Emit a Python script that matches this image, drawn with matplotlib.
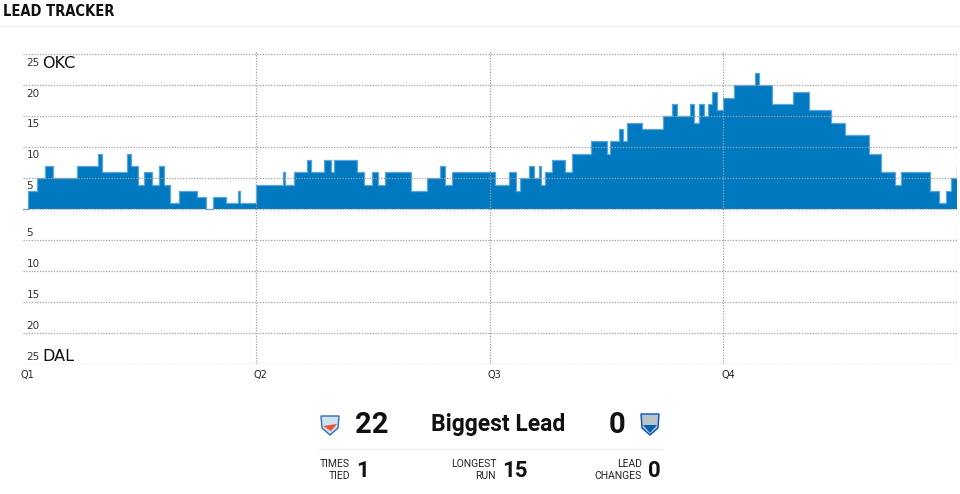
#!/usr/bin/env python3
"""Lead tracker: OKC vs DAL, lead by game minute, with a summary strip below."""

import matplotlib
matplotlib.use("Agg")
import matplotlib.pyplot as plt
from matplotlib.patches import Polygon

# game minute at which each lead value starts (OKC positive)
minutes = [0, 0.26, 0.75, 1.16, 1.54, 2.81, 3.85, 4.06, 5.34, 5.55, 5.91, 6.23,
           6.63, 7.0, 7.28, 7.59, 8.03, 8.94, 9.42, 9.79, 10.45, 11.08, 11.18,
           12.0, 13.39, 13.5, 13.93, 14.61, 14.8, 15.48, 15.86, 16.01, 17.18,
           17.55, 17.93, 18.24, 18.6, 19.97, 20.79, 21.46, 21.7, 22.05,
           24.27, 25.0, 25.35, 25.56, 26.03, 26.27, 26.53, 26.62, 26.82, 27.18,
           27.85, 28.21, 29.22, 30.01, 30.19, 30.62, 30.83, 31.05, 31.81, 32.89,
           33.38, 33.64, 34.26, 34.5, 34.75, 34.99, 35.23, 35.42, 35.67,
           36.0, 36.55, 37.61, 37.85, 38.52, 39.55, 40.42, 41.53, 42.27, 43.49,
           44.12, 44.79, 45.13, 46.59, 47.09, 47.46, 47.68, 47.99]
leads = [0, 3, 5, 7, 5, 7, 9, 6, 9, 7, 4, 6,
         4, 7, 4, 1, 3, 2, 0, 2, 1, 3, 1,
         4, 6, 4, 6, 8, 6, 8, 6, 8, 6,
         4, 6, 4, 6, 3, 5, 7, 4, 6,
         4, 6, 3, 5, 7, 5, 7, 4, 6, 8,
         6, 9, 11, 9, 11, 13, 11, 14, 13, 15,
         17, 15, 17, 14, 17, 15, 17, 19, 16,
         18, 20, 22, 20, 17, 19, 16, 14, 12, 9,
         6, 4, 6, 3, 1, 3, 5, 7]
GAME_END = 48

quarters = ["Q1", "Q2", "Q3", "Q4"]
quarter_starts = [0, 12, 24, 36]
grid_levels = [25, 20, 15, 10, 5, 0, -5, -10, -15, -20, -25]
home_team, away_team = "OKC", "DAL"

stat_labels = ["TIMES\nTIED", "LONGEST\nRUN", "LEAD\nCHANGES"]
stat_values = ["1", "15", "0"]
biggest_lead = {"OKC": "22", "DAL": "0"}

BLUE = "#0079C1"
EDGE = "#5aa6db"
GRID = "#a0a0a0"

W, H = 960, 494
fig = plt.figure(figsize=(W / 100, H / 100), dpi=100)


def fx(px):
    return px / W


def fy(py):
    return 1 - py / H


# header (condensed face if the system has it)
fig.text(fx(3), fy(11), "LEAD TRACKER", fontsize=10.5, fontweight="bold",
         fontstretch="condensed", family=["DejaVu Sans"], color="#111",
         va="center", ha="left")
fig.add_artist(plt.Line2D([0, 1], [fy(26.5), fy(26.5)], color="#eeeeee", lw=1))

# lead chart
ax = fig.add_axes([fx(22.7), fy(364.3), fx(957 - 22.7), fy(52) - fy(364.3)])
ax.set_xlim(0, GAME_END)
ax.set_ylim(-25, 25.4)
for s in ax.spines.values():
    s.set_visible(False)
ax.set_xticks([])
ax.set_yticks([])

xs = minutes + [GAME_END]
ys = leads + [leads[-1]]
ax.fill_between(xs, ys, 0, step="post", color=BLUE, lw=0, zorder=2)
ax.step(xs, ys, where="post", color=EDGE, lw=0.9, zorder=3)

dots = (0, (1, 1.2))
for lv in grid_levels:
    ax.axhline(lv, color=GRID, lw=0.9, ls=dots, zorder=4)
for q in quarter_starts[1:] + [GAME_END]:
    ax.axvline(q, ymax=1.0, color=GRID, lw=0.9, ls=dots, zorder=4)

for lv in grid_levels:
    if lv == 0:
        continue
    off = -1.3 if lv > 0 else 1.2
    ax.text(0.2, lv + off, str(abs(lv)), fontsize=7.5, color="#333",
            ha="left", va="center", zorder=5)

ax.text(1.0, 23.5, home_team, fontsize=11.5, color="#111", ha="left", va="center", zorder=5)
ax.text(1.0, -23.8, away_team, fontsize=11.5, color="#111", ha="left", va="center", zorder=5)

for name, q in zip(quarters, quarter_starts):
    ax.text(q - 0.12, -26.7, name, fontsize=7, color="#222", ha="left", va="center",
            clip_on=False)

# summary strip
roboto = ["Roboto", "DejaVu Sans"]
fig.text(fx(388), fy(425), biggest_lead[home_team], fontsize=21, fontweight="bold",
         family=roboto, ha="right", va="center", color="#111")
fig.text(fx(498.5), fy(425), "Biggest Lead", fontsize=16.5, fontweight="bold",
         family=roboto, ha="center", va="center", color="#111")
fig.text(fx(609), fy(425), biggest_lead[away_team], fontsize=21, fontweight="bold",
         family=roboto, ha="left", va="center", color="#111")
fig.add_artist(plt.Line2D([fx(318), fx(662)], [fy(448.5), fy(448.5)],
                          color="#eeeeee", lw=1))

# rough team badges
okc = Polygon([[fx(321), fy(416)], [fx(339), fy(416)], [fx(338), fy(428)],
               [fx(330), fy(435)], [fx(322), fy(428)]], closed=True,
              facecolor="#cfe2f3", edgecolor="#2e6db4", lw=1)
okc_o = Polygon([[fx(323), fy(426)], [fx(337), fy(424)], [fx(331), fy(431)]],
                closed=True, facecolor="#f05133", edgecolor="none")
dal = Polygon([[fx(641), fy(414)], [fx(659), fy(414)], [fx(658), fy(428)],
               [fx(650), fy(435)], [fx(642), fy(428)]], closed=True,
              facecolor="#b8c4ca", edgecolor="#0053bc", lw=1)
dal_b = Polygon([[fx(643), fy(425)], [fx(657), fy(425)], [fx(650), fy(433)]],
                closed=True, facecolor="#0064b1", edgecolor="none")
for p in (okc, okc_o, dal, dal_b):
    fig.add_artist(p)

label_right = [350, 496, 642]
for lbl, val, xr in zip(stat_labels, stat_values, label_right):
    fig.text(fx(xr), fy(470), lbl, fontsize=7.5, family=roboto, ha="right",
             va="center", color="#222", linespacing=1.35)
    fig.text(fx(xr + 6), fy(470.5), val, fontsize=16, fontweight="bold",
             family=roboto, ha="left", va="center", color="#111")

fig.savefig("out.png", dpi=100)
